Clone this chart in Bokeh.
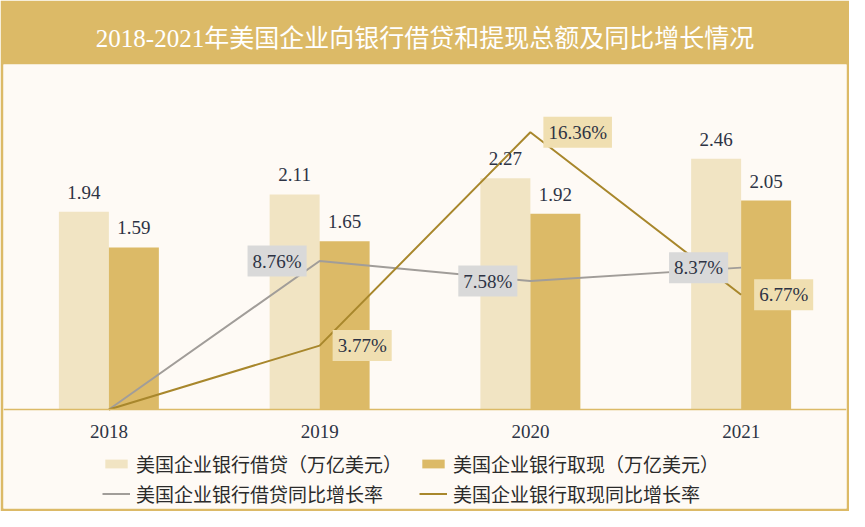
from bokeh.plotting import figure
from bokeh.models import (ColumnDataSource, FactorRange, Range1d, CategoricalAxis,
                          LabelSet, Legend, LegendItem)
from bokeh.transform import dodge
from bokeh.core.properties import value
from bokeh.embed import file_html
from bokeh.resources import INLINE

# ---- data ----
years = ["2018", "2019", "2020", "2021"]
loans = [1.94, 2.11, 2.27, 2.46]          # 美国企业银行借贷（万亿美元）
draws = [1.59, 1.65, 1.92, 2.05]          # 美国企业银行取现（万亿美元）
loan_growth = [0.0, 8.76, 7.58, 8.37]     # 借贷同比增长率 %
draw_growth = [0.0, 3.77, 16.36, 6.77]    # 取现同比增长率 %

title_text = "2018-2021年美国企业向银行借贷和提现总额及同比增长情况"
legend_labels = ["美国企业银行借贷（万亿美元）", "美国企业银行取现（万亿美元）",
                 "美国企业银行借贷同比增长率", "美国企业银行取现同比增长率"]

# ---- styles ----
GOLD = "#dcba67"
LIGHT = "#f1e4c3"
CREAM = "#fefaf5"
GRAY_LINE = "#a19d99"
GOLD_LINE = "#a8872c"
GRAY_BOX = "#d9d9d9"
GOLD_BOX = "#f0dfb1"
TEXT = "#2d3344"
SERIF = "Liberation Serif, Noto Sans CJK SC"

src = ColumnDataSource(dict(
    year=years, loan=loans, draw=draws, lg=loan_growth, dg=draw_growth,
    loan_txt=[f"{v:.2f}" for v in loans],
    draw_txt=[f"{v:.2f}" for v in draws],
))
lab_src = ColumnDataSource(dict(
    year=years[1:], lg=loan_growth[1:], dg=draw_growth[1:],
    lg_txt=[f"{v:.2f}%" for v in loan_growth[1:]],
    dg_txt=[f"{v:.2f}%" for v in draw_growth[1:]],
))

p = figure(width=849, height=511,
           x_range=FactorRange(factors=years, range_padding=0),
           y_range=Range1d(-0.9715, 3.3857),
           x_axis_location=None, y_axis_location=None,
           toolbar_location=None, output_backend="svg",
           min_border_left=3, min_border_right=3,
           min_border_top=64, min_border_bottom=3,
           border_fill_color=GOLD, background_fill_color=CREAM,
           outline_line_color=None)
p.extra_y_ranges = {"pct": Range1d(-5.841, 20.354)}
p.xgrid.visible = False
p.ygrid.visible = False

p.title.text = title_text
p.title.align = "center"
p.title.text_color = "white"
p.title.text_font = SERIF
p.title.text_font_size = "25px"
p.title.text_font_style = "normal"
p.title.standoff = 25

BW = 0.2372
r_loan = p.vbar(x=dodge("year", -BW / 2, range=p.x_range), top="loan", width=BW,
                source=src, fill_color=LIGHT, line_color=None)
r_draw = p.vbar(x=dodge("year", BW / 2, range=p.x_range), top="draw", width=BW,
                source=src, fill_color=GOLD, line_color=None)

for col, txt, off in (("loan", "loan_txt", -BW / 2), ("draw", "draw_txt", BW / 2)):
    p.add_layout(LabelSet(x=dodge("year", off, range=p.x_range), y=col, text=txt,
                          source=src, text_align="center", text_baseline="alphabetic",
                          y_offset=13, text_font=value(SERIF), text_font_size="19px",
                          text_color=TEXT))

r_lg = p.line(x="year", y="lg", source=src, y_range_name="pct",
              line_color=GRAY_LINE, line_width=2)
r_dg = p.line(x="year", y="dg", source=src, y_range_name="pct",
              line_color=GOLD_LINE, line_width=2)

p.text(x="year", y="lg", text="lg_txt", source=lab_src, y_range_name="pct",
       text_align="right", text_baseline="middle", x_offset=-13,
       text_font=value(SERIF), text_font_size="19px", text_color=TEXT,
       background_fill_color=GRAY_BOX, padding=5)
p.text(x="year", y="dg", text="dg_txt", source=lab_src, y_range_name="pct",
       text_align="left", text_baseline="middle", x_offset=13,
       text_font=value(SERIF), text_font_size="19px", text_color=TEXT,
       background_fill_color=GOLD_BOX, padding=5)

ax = CategoricalAxis(fixed_location=0, axis_line_color=GOLD, axis_line_width=1.5,
                     major_tick_line_color=None, minor_tick_line_color=None,
                     major_label_text_font=SERIF, major_label_text_font_size="19px",
                     major_label_text_color=TEXT, major_label_standoff=9)
p.add_layout(ax, "below")

legend = Legend(items=[LegendItem(label=legend_labels[0], renderers=[r_loan]),
                       LegendItem(label=legend_labels[1], renderers=[r_draw]),
                       LegendItem(label=legend_labels[2], renderers=[r_lg]),
                       LegendItem(label=legend_labels[3], renderers=[r_dg])],
                location=(99, 1), orientation="horizontal", ncols=2,
                padding=0, margin=0, spacing=3,
                glyph_width=28, glyph_height=11, label_height=20,
                label_width=280, label_standoff=6,
                label_text_font=SERIF, label_text_font_size="19px",
                label_text_color="#2b2b2b",
                background_fill_alpha=0, border_line_alpha=0)
p.add_layout(legend, "center")

open("out.html", "w").write(file_html(p, INLINE))
